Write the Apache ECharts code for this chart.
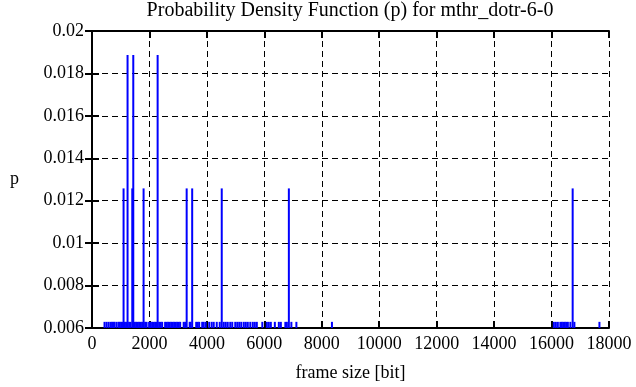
<!DOCTYPE html>
<html><head><meta charset="utf-8">
<script src="https://cdn.jsdelivr.net/npm/echarts@6/dist/echarts.min.js"></script>
<style>html,body{margin:0;padding:0;background:#fff}#c{width:636px;height:387px}</style>
</head><body><div id="c"></div>
<script>
const frameSizes = [436,506,576,645,698,750,785,855,924,959,
1012,1064,1099,1134,1186,1238,1291,1343,1402,1437,1482,1535,1587,1639,1692,1744,1796,1849,1901,
1988,2040,2093,2145,2197,2250,2285,2337,2389,2442,2546,2599,2651,2703,2756,2808,2860,2912,2965,3017,3069,
3192,3244,3296,3401,3436,3488,3628,3680,3732,3837,3889,
3959,4081,4168,4238,4343,4447,4517,4587,4656,4726,4813,4883,4988,5058,5127,5197,5284,5354,5424,5511,5598,5668,5738,5930,
6087,6156,6226,6366,6505,6575,6732,6784,6854,6941,7116,
8354,
16080,16149,16219,16306,16359,16411,16463,16515,16568,16655,16735,16795,
17667];
const probabilities = [0.00629,0.00629,0.00629,0.00629,0.00629,0.00629,0.00629,0.00629,0.00629,0.00629,
0.00629,0.00629,0.01258,0.00629,0.00629,0.01887,0.00629,0.00629,0.01258,0.01887,0.00629,0.00629,0.00629,0.00629,0.00629,0.00629,0.01258,0.00629,0.00629,
0.00629,0.00629,0.00629,0.00629,0.00629,0.00629,0.01887,0.00629,0.00629,0.00629,0.00629,0.00629,0.00629,0.00629,0.00629,0.00629,0.00629,0.00629,0.00629,0.00629,0.00629,
0.00629,0.00629,0.01258,0.00629,0.00629,0.01258,0.00629,0.00629,0.00629,0.00629,0.00629,
0.00629,0.00629,0.00629,0.00629,0.00629,0.00629,0.01258,0.00629,0.00629,0.00629,0.00629,0.00629,0.00629,0.00629,0.00629,0.00629,0.00629,0.00629,0.00629,0.00629,0.00629,0.00629,0.00629,0.00629,
0.00629,0.00629,0.00629,0.00629,0.00629,0.00629,0.00629,0.00629,0.01258,0.00629,0.00629,
0.00629,
0.00629,0.00629,0.00629,0.00629,0.00629,0.00629,0.00629,0.00629,0.00629,0.00629,0.01258,0.00629,
0.00629];
const xMin = 0, xMax = 18000, xStep = 2000;
const yMin = 0.006, yMax = 0.02, yStep = 0.002;
const titleText = 'Probability Density Function (p) for mthr_dotr-6-0';
const xLabel = 'frame size [bit]';
const yLabel = 'p';

const FONT = '"Liberation Serif", "DejaVu Serif", serif';
const chart = echarts.init(document.getElementById('c'), null, {renderer: 'canvas'});
const dataPairs = frameSizes.map((x, i) => [x, probabilities[i]]);
const axisCommon = {
  axisLine: {show: true, lineStyle: {color: '#000', width: 2}},
  axisTick: {show: true, inside: true, length: 7, lineStyle: {color: '#000', width: 2}},
  splitLine: {show: false}
};
const gridLine = {splitLine: {show: true, lineStyle: {color: '#000', width: 1, type: [6, 4]}}};
chart.setOption({
  animation: false,
  backgroundColor: '#fff',
  title: {text: titleText, left: 350, top: 1, textAlign: 'center', padding: 0,
    textStyle: {fontFamily: FONT, fontWeight: 'normal', fontSize: 20, color: '#000'}},
  grid: {left: 92, right: 27, top: 31, bottom: 56, containLabel: false},
  xAxis: [
    Object.assign({type: 'value', min: xMin, max: xMax, interval: xStep, position: 'bottom',
      name: xLabel, nameLocation: 'middle', nameGap: 36,
      nameTextStyle: {fontFamily: FONT, fontSize: 18, color: '#000'},
      axisLabel: {fontFamily: FONT, fontSize: 18, color: '#000', margin: 7,
        formatter: v => String(Math.round(v))},
    }, axisCommon, gridLine),
    Object.assign({type: 'value', min: xMin, max: xMax, interval: xStep, position: 'top',
      axisLabel: {show: false}}, axisCommon)
  ],
  yAxis: [
    Object.assign({type: 'value', min: yMin, max: yMax, interval: yStep, position: 'left',
      name: yLabel, nameLocation: 'middle', nameGap: 73, nameRotate: 0,
      nameTextStyle: {fontFamily: FONT, fontSize: 18, color: '#000'},
      axisLabel: {fontFamily: FONT, fontSize: 18, color: '#000', margin: 8,
        formatter: v => String(+v.toFixed(3))},
    }, axisCommon, gridLine),
    Object.assign({type: 'value', min: yMin, max: yMax, interval: yStep, position: 'right',
      axisLabel: {show: false}}, axisCommon)
  ],
  series: [{
    type: 'custom',
    xAxisIndex: 0, yAxisIndex: 0,
    data: dataPairs,
    clip: true,
    renderItem: function (params, api) {
      const x = api.value(0), y = api.value(1);
      const top = api.coord([x, y]);
      const bottom = api.coord([x, yMin]);
      return {type: 'line', shape: {x1: top[0], y1: top[1], x2: bottom[0], y2: bottom[1]},
        style: {stroke: '#0000ff', lineWidth: 2}};
    }
  }]
});
</script></body></html>
